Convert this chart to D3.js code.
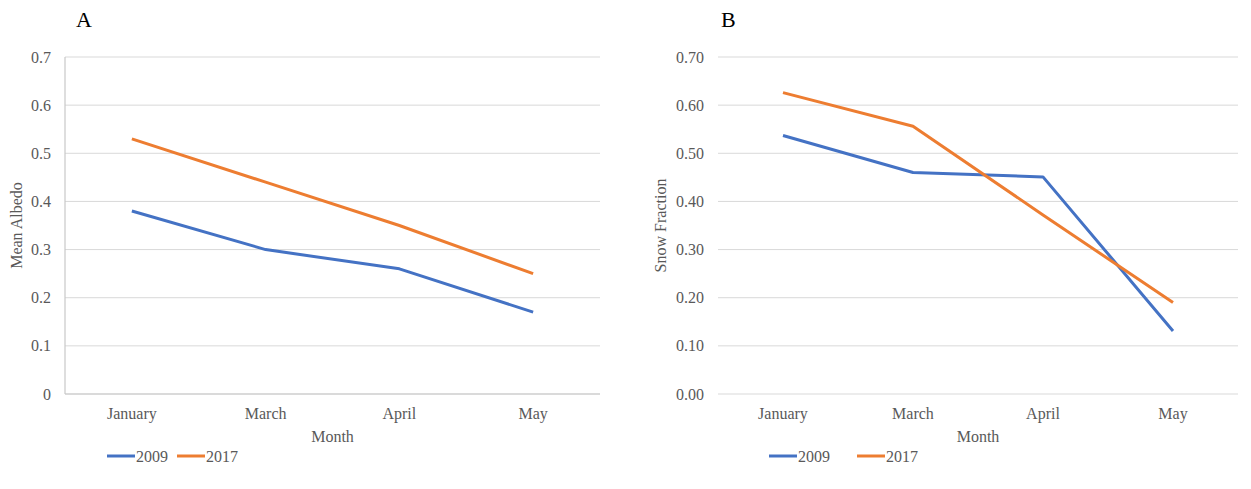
<!DOCTYPE html>
<html><head><meta charset="utf-8">
<script src="https://cdn.jsdelivr.net/npm/d3@7"></script>
<style>body{margin:0;background:#fff}svg{display:block}text{font-family:"Liberation Serif","Times New Roman",serif}</style>
</head><body><svg id="c" width="1251" height="489"></svg>
<script>
const months = ["January","March","April","May"];
const seriesNames = ["2009","2017"];
const albedo2009 = [0.38,0.30,0.26,0.17];
const albedo2017 = [0.53,0.44,0.35,0.25];
const snow2009 = [0.537,0.46,0.451,0.131];
const snow2017 = [0.626,0.556,0.372,0.19];
const ticksA = [0,0.1,0.2,0.3,0.4,0.5,0.6,0.7];
const ticksB = [0,0.1,0.2,0.3,0.4,0.5,0.6,0.7];
const colors = ["#4472C4","#ED7D31"];
const fs = 16;

const svg = d3.select("#c");

function panel(o){
  const g = svg.append("g");
  const x = d3.scaleBand().domain(months).range([o.left,o.right]);
  const y = d3.scaleLinear().domain([0,0.7]).range([o.bottom,o.top]);
  g.append("g").selectAll("line").data(o.ticks).join("line")
    .attr("x1",o.left).attr("x2",o.right)
    .attr("y1",d=>y(d)).attr("y2",d=>y(d))
    .attr("stroke","#d9d9d9").attr("stroke-width",1);
  if(o.axisLine){
    g.append("line").attr("x1",o.left).attr("x2",o.left).attr("y1",o.top).attr("y2",o.bottom)
      .attr("stroke","#c8c8c8").attr("stroke-width",1.2);
    g.append("line").attr("x1",o.left).attr("x2",o.right).attr("y1",o.bottom).attr("y2",o.bottom)
      .attr("stroke","#c8c8c8").attr("stroke-width",1.2);
  }
  g.append("g").selectAll("text").data(o.ticks).join("text")
    .attr("x",o.labelX).attr("y",d=>y(d)).attr("dy","0.35em")
    .attr("text-anchor","end").attr("fill","#595959").attr("font-size",fs)
    .text(d=>d3.format(o.fmt)(d));
  g.append("g").selectAll("text").data(months).join("text")
    .attr("x",d=>x(d)+x.bandwidth()/2).attr("y",o.bottom+25)
    .attr("text-anchor","middle").attr("fill","#595959").attr("font-size",fs)
    .text(d=>d);
  g.append("text").attr("x",(o.left+o.right)/2).attr("y",o.bottom+48)
    .attr("text-anchor","middle").attr("fill","#595959").attr("font-size",fs).text("Month");
  g.append("text").attr("transform",`translate(${o.ytX},${(o.top+o.bottom)/2}) rotate(-90)`)
    .attr("text-anchor","middle").attr("fill","#595959").attr("font-size",fs).text(o.yTitle);
  g.append("text").attr("x",o.letterX).attr("y",27).attr("fill","#000").attr("font-size",22).text(o.letter);
  const line = d3.line().x((d,i)=>x(months[i])+x.bandwidth()/2).y(d=>y(d));
  o.series.forEach((s,k)=>{
    g.append("path").datum(s).attr("d",line).attr("fill","none")
      .attr("stroke",colors[k]).attr("stroke-width",3).attr("stroke-linejoin","round");
  });
  seriesNames.forEach((n,k)=>{
    const lx = o.legendX[k];
    g.append("line").attr("x1",lx).attr("x2",lx+28).attr("y1",456).attr("y2",456)
      .attr("stroke",colors[k]).attr("stroke-width",3);
    g.append("text").attr("x",lx+29).attr("y",456).attr("dy","0.35em")
      .attr("fill","#595959").attr("font-size",fs).text(n);
  });
}

panel({left:65,right:600,top:57,bottom:394,ticks:ticksA,fmt:"",labelX:51,axisLine:true,
  yTitle:"Mean Albedo",ytX:22,letter:"A",letterX:76,series:[albedo2009,albedo2017],legendX:[107,177]});
panel({left:718,right:1238,top:57,bottom:394,ticks:ticksB,fmt:".2f",labelX:704,axisLine:false,
  yTitle:"Snow Fraction",ytX:666,letter:"B",letterX:721,series:[snow2009,snow2017],legendX:[769,857]});
</script></body></html>
